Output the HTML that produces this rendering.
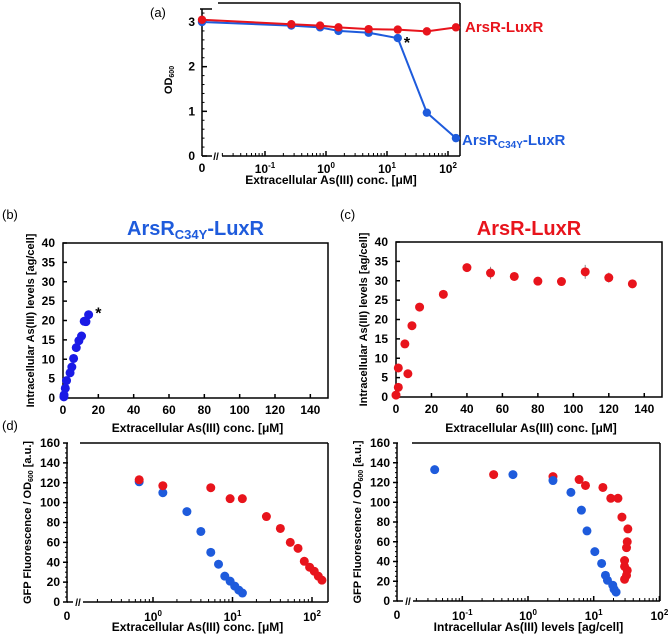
<!DOCTYPE html>
<html><head><meta charset="utf-8">
<style>
html,body{margin:0;padding:0;background:#fff;}
svg{display:block;font-family:"Liberation Sans",Arial,sans-serif;font-weight:bold;}
</style></head>
<body>
<svg id="fig" width="670" height="636" viewBox="0 0 670 636" xmlns="http://www.w3.org/2000/svg">
<g id="layer"></g>
</svg>
<script>
// ---------- DATA ----------
// Panel (a): OD600 vs extracellular As(III)
const aConc = [0, 0.27, 0.8, 1.6, 5, 15, 45, 135];
const aRed = [3.05, 2.95, 2.92, 2.88, 2.84, 2.83, 2.79, 2.88];
const aBlue = [3.0, 2.92, 2.88, 2.8, 2.76, 2.64, 0.97, 0.4];
const aYTicks = [0, 1, 2, 3];
// Panel (b): ArsR C34Y intracellular
const bX = [0.5, 0.6, 1.3, 2, 4, 5, 6, 7.5, 9, 10.5, 12, 13, 14.5];
const bY = [0.3, 0.8, 2.5, 4.5, 6.5, 8, 10.2, 13, 14.8, 16, 19.8, 19.7, 21.5];
// Panel (c): ArsR intracellular
const cX = [0, 1.3, 1.3, 5, 6.7, 9, 13.3, 26.7, 40, 53.3, 66.7, 80, 93.3, 106.7, 120, 133.3];
const cY = [0.5, 2.5, 7.5, 13.7, 6, 18.4, 23.2, 26.5, 33.4, 32, 31.1, 29.9, 29.8, 32.3, 30.8, 29.2];
const cErr = [0, 0, 0, 0, 0, 0, 0, 0, 0, 1.6, 1, 0, 0, 1.8, 1.3, 0];
const linTicksX = [0, 20, 40, 60, 80, 100, 120, 140];
const linTicksY = [0, 5, 10, 15, 20, 25, 30, 35, 40];
// Panel (d) left: GFP vs extracellular
const dBlueX = [0.67, 1.33, 2.67, 4, 5.33, 6.67, 8, 9.33, 10.67, 12, 13.33];
const dBlueY = [121, 110, 91, 71, 50, 38, 26, 21, 16, 12, 9];
const dRedX = [0.67, 1.33, 5.33, 9.33, 13.3, 26.7, 40, 53.3, 66.7, 80, 93.3, 106.7, 120, 133.3];
const dRedY = [123, 117, 115, 104, 104, 86, 74, 60, 54, 41, 35, 31, 26, 22];
// Panel (d) right: GFP vs intracellular
const eBlueX = [0.038, 0.59, 2.4, 4.5, 6.5, 7.9, 10.4, 13.2, 15.1, 16.2, 19.5, 20.4, 21.9];
const eBlueY = [133, 128, 122, 110, 92, 71, 50, 38, 26, 21, 16, 12, 9];
const eRedX = [0.30, 2.4, 6.0, 7.5, 13.8, 18.2, 23.4, 26.9, 33.1, 32.4, 31.6, 29.5, 29.5, 32.4, 31.6, 29.5];
const eRedY = [128, 126, 123, 117, 115, 104, 104, 85, 73, 60, 54, 41, 35, 31, 26, 22];
const gfpTicks = [0, 20, 40, 60, 80, 100, 120, 140, 160];

const RED = '#e8141c', BLUE = '#1e5bdc', BLUEB = '#1a1ae6';
const NS = 'http://www.w3.org/2000/svg';
const layer = document.getElementById('layer');
function el(tag, attrs, parent) {
  const e = document.createElementNS(NS, tag);
  for (const k in attrs) e.setAttribute(k, attrs[k]);
  (parent || layer).appendChild(e);
  return e;
}
function line(x1, y1, x2, y2, p, w) {
  const l = el('line', {x1, y1, x2, y2, stroke: '#000', 'stroke-width': w || 1.5}, p);
  return l;
}
function txt(s, x, y, size, anchor, fill, p) {
  const t = el('text', {x, y, 'font-size': size, 'text-anchor': anchor || 'middle', fill: fill || '#000'}, p);
  t.innerHTML = s;
  return t;
}
function dot(x, y, c, p, r) { return el('circle', {cx: x, cy: y, r: r || 4.5, fill: c}, p); }
function logScale(x0pix, decPix, zeroDec) { return v => x0pix + (Math.log10(v) - zeroDec) * decPix; }
function linScale(d0, d1, p0, p1) { return v => p0 + (v - d0) / (d1 - d0) * (p1 - p0); }
function supLab(exp, x, y, p) {
  const t = el('text', {x, y, 'font-size': 12, 'text-anchor': 'middle'}, p);
  t.innerHTML = '10<tspan font-size="8" dy="-5">' + exp + '</tspan>';
  return t;
}
function minorLog(g, xs, yAxis, from, to) {
  for (let d = from; d < to; d++) for (let m = 2; m <= 9; m++) {
    const v = m * Math.pow(10, d);
    const px = xs(v);
    if (px < xs(Math.pow(10, to)) + 12) line(px, yAxis, px, yAxis - 3, g, 1);
  }
}

// ---------- Panel (a) ----------
(function () {
  const g = el('g', {});
  
  
  const L = 202, R = 460, T = 3, B = 156;
  const ys = linScale(0, 3, B, 22);
  const xl = logScale(326, 61, 0);
  const xs = v => v === 0 ? L : xl(v);
  txt('(a)', 150, 17, 13, 'start', '#000', g).setAttribute('font-weight', 'normal');
  line(L, T + 6, L, B, g); line(L - 2, T + 6, L + 10, T + 6, g);
  line(218, T, R, T, g); line(R, T, R, B, g);
  line(L, B, 212, B, g); line(222, B, R, B, g);
  txt('//', 216, B + 4, 10, 'middle', '#000', g);
  aYTicks.forEach(v => { line(L, ys(v), L + 5, ys(v), g); txt(v, 195, ys(v) + 4, 12, 'end', '#000', g); });
  for (let v = 0.2; v < 3.4; v += 0.2) line(L, ys(v), L + 2.5, ys(v), g, 1);
  minorLog(g, xl, B, -2, 2);
  txt('0', L, B + 16, 12, 'middle', '#000', g);
  [-1, 0, 1, 2].forEach(e => { line(xl(Math.pow(10, e)), B, xl(Math.pow(10, e)), B - 5, g); supLab(e, xl(Math.pow(10, e)), B + 17, g); });
  const yl = txt('OD<tspan font-size="7" dy="2">600</tspan>', 0, 0, 11, 'middle', '#000', g);
  yl.setAttribute('transform', 'translate(172,80) rotate(-90)');
  txt('Extracellular As(III) conc. [μM]', 331, 184, 12, 'middle', '#000', g);
  [[aBlue, BLUE], [aRed, RED]].forEach(([arr, c]) => {
    const pts = aConc.map((v, i) => xs(v) + ',' + ys(arr[i])).join(' ');
    el('polyline', {points: pts, fill: 'none', stroke: c, 'stroke-width': 2}, g);
    aConc.forEach((v, i) => dot(xs(v), ys(arr[i]), c, g, 4.2));
  });
  txt('*', 407, 48, 16, 'middle', '#000', g);
  txt('ArsR-LuxR', 465, 32, 15, 'start', RED, g);
  txt('ArsR<tspan font-size="10" dy="3">C34Y</tspan><tspan dy="-3">-LuxR</tspan>', 462, 145, 15, 'start', BLUE, g);
})();

// ---------- Panels (b) & (c) ----------
function linPanel(name, L, R, T, B, xsArr, ysArr, color, err, title, titleColor, label, labelX) {
  const g = el('g', {});
  
  
  const xs = linScale(0, 150, L, R), ys = linScale(0, 40, B, T);
  el('rect', {x: L, y: T, width: R - L, height: B - T, fill: 'none', stroke: '#000', 'stroke-width': 1.5}, g);
  linTicksY.forEach(v => { line(L, ys(v), L + 4, ys(v), g); txt(v, L - 8, ys(v) + 4, 12, 'end', '#000', g); });
  linTicksX.forEach(v => { line(xs(v), B, xs(v), B - 4, g); txt(v, xs(v), B + 16, 12, 'middle', '#000', g); });
  const yl = txt('Intracellular As(III) levels [ag/cell]', 0, 0, 11, 'middle', '#000', g);
  yl.setAttribute('transform', 'translate(' + (L - 29) + ',' + ((T + B) / 2) + ') rotate(-90)');
  txt(label, labelX, 219, 13, 'start', '#000', g).setAttribute('font-weight', 'normal');
  txt(title, (L + R) / 2, 235, 20, 'middle', titleColor, g);
  txt('Extracellular As(III) conc. [μM]', (L + R) / 2 + 2, 432, 12, 'middle', '#000', g);
  xsArr.forEach((v, i) => {
    if (err && err[i]) {
      line(xs(v), ys(ysArr[i] + err[i]), xs(v), ys(ysArr[i] - err[i]), g, 1).setAttribute('stroke', '#888');
    }
    dot(xs(v), ys(ysArr[i]), color, g);
  });
  return {g, xs, ys};
}
const pb = linPanel('panel-b', 63, 328, 243, 398, bX, bY, BLUEB, null,
  'ArsR<tspan font-size="13" dy="4">C34Y</tspan><tspan dy="-4">-LuxR</tspan>', BLUE, '(b)', 2);
txt('*', pb.xs(20), pb.ys(20.5), 16, 'middle', '#000', pb.g);
linPanel('panel-c', 396, 662, 242, 397, cX, cY, RED, cErr, 'ArsR-LuxR', RED, '(c)', 340);

// ---------- Panel (d) ----------
function logPanel(name, L, R, T, B, topStart, xl, decs, label, xTitle, series) {
  const g = el('g', {});
  
  
  const ys = linScale(0, 160, B, T);
  line(L, T, L, B, g); line(topStart, T, R, T, g); line(R, T, R, B, g);
  line(L, B, L + 6, B, g); line(L + 16, B, R, B, g);
  txt('//', L + 11, B + 4, 10, 'middle', '#000', g);
  gfpTicks.forEach(v => { line(L - 4, ys(v), L + 1, ys(v), g); txt(v, L - 7, ys(v) + 4, 12, 'end', '#000', g); });
  for (let v = 5; v < 160; v += 5) if (v % 20) line(L - 2, ys(v), L, ys(v), g, 1);
  minorLog(g, xl, B, decs[0] - 1, decs[decs.length - 1]);
  txt('0', L, B + 18, 12, 'middle', '#000', g);
  decs.forEach(e => { const px = xl(Math.pow(10, e)); line(px, B, px, B - 5, g); supLab(e, px, B + 19, g); });
  const yl = txt('GFP Fluorescence / OD<tspan font-size="7" dy="2">600</tspan><tspan dy="-2"> [a.u.]</tspan>', 0, 0, 11, 'middle', '#000', g);
  yl.setAttribute('transform', 'translate(' + (L - 36) + ',' + ((T + B) / 2) + ') rotate(-90)');
  txt(xTitle, (L + R) / 2, 631, 12, 'middle', '#000', g);
  if (label) txt(label, 2, 430, 13, 'start', '#000', g).setAttribute('font-weight', 'normal');
  series.forEach(([xa, ya, c]) => xa.forEach((v, i) => dot(xl(v), ys(ya[i]), c, g)));
}
logPanel('panel-d-left', 67, 328, 443, 602, 80, logScale(153, 79.5, 0), [0, 1, 2], '(d)',
  'Extracellular As(III) conc. [μM]', [[dBlueX, dBlueY, BLUE], [dRedX, dRedY, RED]]);
logPanel('panel-d-right', 397, 660, 443, 601, 412, logScale(528, 65.7, 0), [-1, 0, 1, 2], null,
  'Intracellular As(III) levels [ag/cell]', [[eRedX, eRedY, RED], [eBlueX, eBlueY, BLUE]]);
</script>
</body></html>
